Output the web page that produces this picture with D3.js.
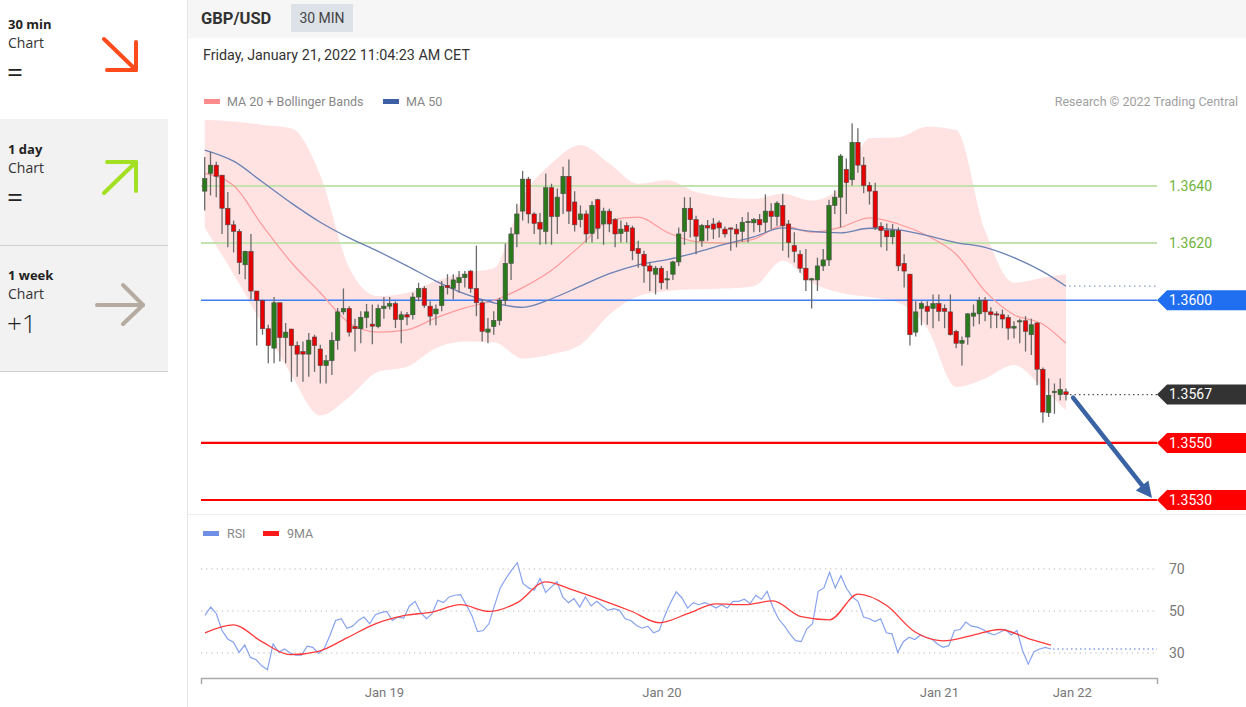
<!DOCTYPE html>
<html><head><meta charset="utf-8">
<script src="https://cdn.jsdelivr.net/npm/d3@7"></script>
<style>body{margin:0;background:#fff;font-family:Roboto,Arial,sans-serif;overflow:hidden}</style>
</head><body><svg id="c" width="1246" height="707"></svg>
<script>
// ---------------- DATA ----------------
const opens=[1.36382,1.36444,1.36473,1.36438,1.36322,1.36264,1.36241,1.36124,1.36171,1.36032,
1.35999,1.35900,1.35832,1.35991,1.35869,1.35899,1.35841,1.35820,1.35811,1.35871,
1.35829,1.35771,1.35788,1.35859,1.35959,1.35971,1.35908,1.35900,1.35940,1.35916,
1.35908,1.35971,1.35979,1.35988,1.35932,1.35949,1.35949,1.36011,1.36041,1.35979,
1.35952,1.35981,1.36052,1.36041,1.36061,1.36079,1.36102,1.36041,1.35991,1.35888,
1.35908,1.35929,1.36000,1.36129,1.36232,1.36312,1.36424,1.36302,1.36273,1.36241,
1.36394,1.36293,1.36373,1.36434,1.36344,1.36282,1.36302,1.36234,1.36352,1.36267,
1.36312,1.36282,1.36234,1.36261,1.36253,1.36181,1.36161,1.36120,1.36091,1.36112,
1.36071,1.36091,1.36134,1.36241,1.36322,1.36282,1.36208,1.36261,1.36267,1.36271,
1.36249,1.36253,1.36249,1.36241,1.36272,1.36271,1.36282,1.36273,1.36312,1.36293,
1.36332,1.36267,1.36191,1.36161,1.36112,1.36071,1.36071,1.36120,1.36141,1.36332,
1.36361,1.36458,1.36422,1.36553,1.36473,1.36402,1.36382,1.36259,1.36244,1.36222,
1.36244,1.36129,1.36091,1.35888,1.35971,1.35979,1.35971,1.35988,1.35971,1.35959,
1.35891,1.35849,1.35871,1.35944,1.35952,1.36000,1.35959,1.35952,1.35949,1.35940,
1.35902,1.35924,1.35928,1.35879,1.35920,1.35758,1.35606,1.35676,1.35669,1.35679];
const highs=[1.36502,1.36520,1.36485,1.36438,1.36379,1.36279,1.36249,1.36173,1.36232,1.36032,
1.36002,1.35914,1.36011,1.35991,1.35920,1.35899,1.35855,1.35855,1.35885,1.35879,
1.35844,1.35808,1.35888,1.35973,1.36041,1.35979,1.35935,1.35961,1.35987,1.35985,
1.35985,1.36011,1.36011,1.35996,1.35961,1.35959,1.36026,1.36061,1.36049,1.35996,
1.35985,1.36067,1.36091,1.36091,1.36102,1.36102,1.36105,1.36191,1.36002,1.35938,
1.35961,1.36008,1.36199,1.36255,1.36338,1.36453,1.36432,1.36308,1.36305,1.36444,
1.36408,1.36391,1.36467,1.36493,1.36382,1.36332,1.36314,1.36347,1.36355,1.36324,
1.36320,1.36288,1.36279,1.36273,1.36261,1.36208,1.36173,1.36132,1.36120,1.36120,
1.36102,1.36138,1.36255,1.36361,1.36361,1.36296,1.36267,1.36281,1.36288,1.36279,
1.36258,1.36255,1.36267,1.36291,1.36308,1.36288,1.36302,1.36371,1.36340,1.36347,
1.36373,1.36281,1.36238,1.36175,1.36179,1.36079,1.36149,1.36179,1.36352,1.36385,
1.36512,1.36496,1.36620,1.36602,1.36502,1.36414,1.36411,1.36273,1.36269,1.36267,
1.36255,1.36161,1.36093,1.35996,1.35996,1.35996,1.36020,1.36020,1.35985,1.36020,
1.35896,1.35873,1.35955,1.35985,1.36011,1.36011,1.35975,1.35961,1.35967,1.35949,
1.35926,1.35935,1.35944,1.35935,1.35924,1.35764,1.35726,1.35708,1.35726,1.35691];
const lows=[1.36314,1.36367,1.36361,1.36232,1.36185,1.36167,1.36091,1.36073,1.36002,1.35841,
1.35879,1.35779,1.35779,1.35785,1.35779,1.35714,1.35732,1.35714,1.35732,1.35749,
1.35708,1.35708,1.35738,1.35826,1.35949,1.35873,1.35820,1.35849,1.35902,1.35846,
1.35902,1.35935,1.35967,1.35902,1.35849,1.35912,1.35932,1.35996,1.35973,1.35912,
1.35912,1.35961,1.36020,1.36002,1.36026,1.36044,1.36026,1.35944,1.35855,1.35849,
1.35879,1.35912,1.35982,1.36071,1.36185,1.36279,1.36269,1.36232,1.36194,1.36196,
1.36194,1.36232,1.36302,1.36267,1.36241,1.36255,1.36202,1.36202,1.36214,1.36194,
1.36238,1.36185,1.36202,1.36202,1.36140,1.36114,1.36061,1.36032,1.36020,1.36038,
1.36038,1.36071,1.36120,1.36194,1.36220,1.36161,1.36187,1.36208,1.36214,1.36220,
1.36220,1.36173,1.36185,1.36205,1.36202,1.36238,1.36238,1.36238,1.36249,1.36261,
1.36173,1.36149,1.36132,1.36096,1.36032,1.35971,1.36032,1.36102,1.36120,1.36302,
1.36255,1.36302,1.36402,1.36446,1.36375,1.36335,1.36246,1.36185,1.36173,1.36196,
1.36102,1.36044,1.35841,1.35873,1.35912,1.35914,1.35902,1.35926,1.35902,1.35876,
1.35832,1.35771,1.35844,1.35908,1.35916,1.35926,1.35902,1.35902,1.35902,1.35861,
1.35867,1.35849,1.35820,1.35808,1.35702,1.35571,1.35591,1.35602,1.35649,1.35649];
const closes=[1.36426,1.36473,1.36434,1.36322,1.36264,1.36241,1.36132,1.36171,1.36032,1.35999,
1.35900,1.35841,1.35991,1.35869,1.35888,1.35841,1.35811,1.35811,1.35860,1.35841,
1.35771,1.35788,1.35859,1.35959,1.35971,1.35888,1.35900,1.35940,1.35959,1.35909,
1.35971,1.35979,1.35988,1.35932,1.35949,1.35941,1.36011,1.36041,1.35982,1.35944,
1.35969,1.36049,1.36044,1.36071,1.36079,1.36091,1.36041,1.35991,1.35891,1.35899,
1.35929,1.36000,1.36129,1.36232,1.36302,1.36424,1.36302,1.36269,1.36249,1.36394,
1.36293,1.36361,1.36434,1.36312,1.36264,1.36302,1.36232,1.36332,1.36252,1.36312,
1.36267,1.36232,1.36249,1.36241,1.36173,1.36164,1.36120,1.36102,1.36112,1.36061,
1.36075,1.36134,1.36232,1.36322,1.36282,1.36224,1.36261,1.36253,1.36249,1.36253,
1.36232,1.36249,1.36232,1.36273,1.36276,1.36282,1.36264,1.36312,1.36293,1.36340,
1.36261,1.36202,1.36171,1.36112,1.36071,1.36075,1.36120,1.36141,1.36332,1.36361,
1.36505,1.36412,1.36553,1.36473,1.36402,1.36382,1.36255,1.36244,1.36222,1.36244,
1.36120,1.36102,1.35879,1.35959,1.35988,1.35961,1.35988,1.35961,1.35961,1.35879,
1.35849,1.35859,1.35952,1.35955,1.35999,1.35959,1.35949,1.35949,1.35934,1.35902,
1.35908,1.35928,1.35891,1.35914,1.35758,1.35608,1.35667,1.35681,1.35687,1.35669];

// indicator samples (candle index -> value)
const indIdx=[0,5,10,15,20,25,30,35,40,45,50,55,60,65,70,75,80,85,90,95,100,105,110,115,120,125,130,135,140,145,149];
const bbUpper=[1.36632,1.36626,1.36614,1.36602,1.36438,1.36114,1.36014,1.36026,1.36067,1.36096,1.36112,1.36361,1.36479,1.36544,1.36479,1.36408,1.36420,1.36379,1.36361,1.36355,1.36373,1.36349,1.36396,1.36567,1.36571,1.36608,1.36596,1.36244,1.36061,1.36079,1.36091];
const bbLower=[1.36255,1.36091,1.35914,1.35738,1.35596,1.35661,1.35749,1.35767,1.35832,1.35855,1.35853,1.35796,1.35811,1.35844,1.35949,1.36014,1.36032,1.36038,1.36041,1.36049,1.36138,1.36061,1.36026,1.36011,1.35991,1.35902,1.35696,1.35726,1.35773,1.35691,1.35614];
const ma20=[1.36444,1.36402,1.36261,1.36132,1.36026,1.35920,1.35888,1.35896,1.35938,1.35973,1.35999,1.36044,1.36105,1.36191,1.36279,1.36291,1.36238,1.36205,1.36200,1.36214,1.36261,1.36238,1.36255,1.36288,1.36267,1.36226,1.36161,1.36032,1.35949,1.35916,1.35849];
const ma50=[1.36526,1.36487,1.36414,1.36340,1.36273,1.36218,1.36171,1.36120,1.36067,1.36022,1.35991,1.35975,1.36005,1.36049,1.36093,1.36124,1.36142,1.36167,1.36196,1.36222,1.36253,1.36241,1.36236,1.36252,1.36246,1.36226,1.36202,1.36185,1.36149,1.36100,1.36049];

const rsi=[47.9,51.9,48.7,40.7,36.7,35.1,30.3,33.8,27.9,26.8,
23.9,22.0,34.3,30.3,31.9,30.0,29.0,29.0,33.2,32.7,
29.8,32.2,38.3,45.5,46.3,41.8,42.8,45.5,47.1,43.9,
48.2,49.2,49.8,45.5,47.1,46.6,52.4,54.6,49.2,46.3,
48.7,55.1,54.0,56.7,57.5,57.8,53.0,47.9,40.2,40.7,
43.9,52.7,61.0,65.5,69.5,73.0,63.1,61.0,59.9,65.5,
58.8,61.5,63.9,56.7,54.0,55.9,51.9,56.7,52.4,54.6,
52.4,50.3,51.1,50.3,46.3,45.5,43.1,41.8,42.8,39.6,
40.7,47.9,54.0,59.1,56.2,51.4,54.0,53.0,54.0,53.0,
51.4,53.0,51.4,54.6,54.6,55.6,53.5,57.5,55.6,59.4,
51.9,46.3,43.1,39.1,35.9,35.4,41.5,43.9,59.4,61.0,
68.4,61.0,66.8,60.7,56.7,54.6,47.1,46.3,45.0,46.3,
39.6,39.1,30.3,35.4,37.5,36.4,38.6,37.5,36.7,34.3,
32.7,33.5,40.7,41.2,44.7,42.8,42.3,41.2,39.6,38.6,
39.9,41.2,38.6,40.7,31.1,24.7,30.6,31.9,32.7,31.9];
const rsiMA=[39.6,43.4,35.4,29.2,30.8,37.2,43.9,47.8,49.5,53.0,49.8,54.0,63.9,59.8,55.1,50.0,44.4,48.7,53.4,53.0,54.8,47.3,45.8,58.0,52.7,40.1,35.8,38.3,41.2,36.9,33.8];

const supportRes=[1.3640,1.3620];
const pivot=[1.3600];
const targets=[1.3550,1.3530];
const rsiLevels=[70,50,30];
const xTickLabels=['Jan 19','Jan 20','Jan 21','Jan 22'];
const xTickIdx=[31,79,127,150];

// ---------------- DRAW ----------------
const svg=d3.select('#c');
const font='Roboto, Arial, sans-serif';
const x=d3.scaleLinear().domain([0,149]).range([204.7,1066]);
const y=d3.scaleLinear().domain([1.3530,1.3640]).range([500,186]);
const xr=d3.scaleLinear().domain([0,149]).range([205,1051]);
const yr=d3.scaleLinear().domain([30,70]).range([653,569]);
const LINE_L=201, LINE_R=1157;

// left panel
const lp=svg.append('g').attr('font-family','"Open Sans", sans-serif');
lp.append('rect').attr('x',0).attr('y',119).attr('width',168).attr('height',253).attr('fill','#f2f2f2');
lp.append('line').attr('x1',0).attr('x2',168).attr('y1',245.5).attr('y2',245.5).attr('stroke','#cfcfcf');
lp.append('line').attr('x1',0).attr('x2',168).attr('y1',371.5).attr('y2',371.5).attr('stroke','#cfcfcf');
const panels=[{t:'30 min',s:'=',y0:0},{t:'1 day',s:'=',y0:125},{t:'1 week',s:'+1',y0:251}];
panels.forEach(p=>{
  lp.append('text').attr('x',8).attr('y',p.y0+29).attr('font-size',13).attr('font-weight',700).attr('fill','#222').text(p.t);
  lp.append('text').attr('x',8).attr('y',p.y0+48).attr('font-size',14).attr('fill','#333').text('Chart');
  lp.append('text').attr('x',7).attr('y',p.y0+(p.s==='='?82:82)).attr('font-size',p.s==='='?28:26).attr('fill','#222').attr('font-weight',p.s==='='?400:300).text(p.s);
});
function arrow(g,pts,col){g.append('path').attr('d',d3.line()(pts)).attr('fill','none').attr('stroke',col).attr('stroke-width',4).attr('stroke-linecap','round').attr('stroke-linejoin','round');}
arrow(lp,[[104,39],[136,70]],'#ff4a1c');arrow(lp,[[107,70],[136,70],[136,42]],'#ff4a1c');
arrow(lp,[[104,193],[136,162]],'#a3e022');arrow(lp,[[107,162],[136,162],[136,191]],'#a3e022');
arrow(lp,[[97,305],[143,305]],'#b5aba0');arrow(lp,[[123,285],[143,305],[123,324]],'#b5aba0');

// frame
svg.append('line').attr('x1',187.5).attr('x2',187.5).attr('y1',0).attr('y2',707).attr('stroke','#e6e6e6');
svg.append('rect').attr('x',188).attr('y',0).attr('width',1058).attr('height',38).attr('fill','#f6f6f6');
svg.append('text').attr('x',201).attr('y',24).attr('font-family',font).attr('font-size',16.5).attr('font-weight',700).attr('fill','#333').text('GBP/USD');
svg.append('rect').attr('x',291).attr('y',4).attr('width',62).attr('height',28).attr('fill','#dde2e8');
svg.append('text').attr('x',322).attr('y',23).attr('text-anchor','middle').attr('font-family',font).attr('font-size',14).attr('fill','#444').text('30 MIN');
svg.append('text').attr('x',203).attr('y',60).attr('font-family',font).attr('font-size',14.3).attr('fill','#333').text('Friday, January 21, 2022 11:04:23 AM CET');
svg.append('line').attr('x1',188).attr('x2',1246).attr('y1',514.5).attr('y2',514.5).attr('stroke','#ececec');

// legends
const lg=svg.append('g').attr('font-family',font).attr('font-size',12.5).attr('fill','#888');
lg.append('rect').attr('x',204).attr('y',99).attr('width',16).attr('height',5).attr('fill','#ff8a8a');
lg.append('text').attr('x',227).attr('y',106).text('MA 20 + Bollinger Bands');
lg.append('rect').attr('x',383).attr('y',99).attr('width',16).attr('height',5).attr('fill','#3d5fa3');
lg.append('text').attr('x',406).attr('y',106).text('MA 50');
lg.append('text').attr('x',1238).attr('y',106).attr('text-anchor','end').attr('fill','#a0a0a0').text('Research © 2022 Trading Central');
lg.append('rect').attr('x',203).attr('y',531).attr('width',16).attr('height',5).attr('fill','#6f8fe6');
lg.append('text').attr('x',227).attr('y',538).text('RSI');
lg.append('rect').attr('x',263).attr('y',531).attr('width',16).attr('height',5).attr('fill','#ff1a1a');
lg.append('text').attr('x',287).attr('y',538).text('9MA');

// bollinger band
const bb=indIdx.map((d,i)=>({i:d,u:bbUpper[i],l:bbLower[i],m20:ma20[i],m50:ma50[i],r:rsiMA[i]}));
svg.append('path').datum(bb).attr('d',d3.area().x(d=>x(d.i)).y0(d=>y(d.l)).y1(d=>y(d.u)).curve(d3.curveMonotoneX)).attr('fill','#ffe2e2');

// level lines
supportRes.forEach(v=>{
  svg.append('line').attr('x1',LINE_L).attr('x2',LINE_R).attr('y1',y(v)).attr('y2',y(v)).attr('stroke','#c4e2ad').attr('stroke-width',2);
  svg.append('text').attr('x',1169).attr('y',y(v)+5).attr('font-family',font).attr('font-size',14).attr('fill','#6fb33a').text(v.toFixed(4));
});
function tag(v,col){
  const yy=y(v);
  svg.append('path').attr('d',`M1157,${yy} L1167,${yy-10} L1246,${yy-10} L1246,${yy+10} L1167,${yy+10} Z`).attr('fill',col);
  svg.append('text').attr('x',1169).attr('y',yy+5).attr('font-family',font).attr('font-size',14).attr('fill','#fff').text(v.toFixed(4));
}
pivot.forEach(v=>{
  svg.append('line').attr('x1',LINE_L).attr('x2',LINE_R).attr('y1',y(v)).attr('y2',y(v)).attr('stroke','#3f7ef5').attr('stroke-width',1.6);
  tag(v,'#1f6ff0');
});
targets.forEach(v=>{
  svg.append('line').attr('x1',LINE_L).attr('x2',LINE_R).attr('y1',y(v)).attr('y2',y(v)).attr('stroke','#ff0000').attr('stroke-width',2.2);
  tag(v,'#ff0000');
});

// MA lines
svg.append('path').datum(bb).attr('d',d3.line().x(d=>x(d.i)).y(d=>y(d.m20)).curve(d3.curveMonotoneX)).attr('fill','none').attr('stroke','#ff9a9a').attr('stroke-width',1.2);
svg.append('path').datum(bb).attr('d',d3.line().x(d=>x(d.i)).y(d=>y(d.m50)).curve(d3.curveMonotoneX)).attr('fill','none').attr('stroke','#6a82b5').attr('stroke-width',1.3);
const lastI=149;
svg.append('line').attr('x1',x(lastI)+3).attr('x2',LINE_R).attr('y1',y(ma50[ma50.length-1])).attr('y2',y(ma50[ma50.length-1])).attr('stroke','#8a9cc4').attr('stroke-dasharray','1.5,3.5').attr('stroke-width',1.2);

// candles
const candles=opens.map((o,i)=>({i,o,h:highs[i],l:lows[i],c:closes[i]}));
const cg=svg.append('g');
cg.selectAll('line').data(candles).join('line').attr('x1',d=>x(d.i)).attr('x2',d=>x(d.i)).attr('y1',d=>y(d.h)).attr('y2',d=>y(d.l)).attr('stroke','#6b6b6b').attr('stroke-width',1.3);
cg.selectAll('rect').data(candles).join('rect').attr('x',d=>x(d.i)-2.2).attr('width',4.4)
  .attr('y',d=>y(Math.max(d.o,d.c))).attr('height',d=>Math.max(1.2,Math.abs(y(d.o)-y(d.c))))
  .attr('fill',d=>d.c>=d.o?'#2a7a1c':'#e80000').attr('stroke','#4a4a4a').attr('stroke-width',0.6);

// current price
const lastC=closes[lastI];
svg.append('line').attr('x1',x(lastI)+4).attr('x2',LINE_R).attr('y1',y(lastC)).attr('y2',y(lastC)).attr('stroke','#555').attr('stroke-dasharray','1.5,3').attr('stroke-width',1.2);
tag(+lastC.toFixed(4),'#333333');

// forecast arrow
const ax0=x(lastI)+7, ay0=y(lastC)+3, ax1=x(lastI)+86, ay1=y(targets[1])-2;
const ang=Math.atan2(ay1-ay0,ax1-ax0);
const hl=16, hw=8;
const bx=ax1-hl*Math.cos(ang), by=ay1-hl*Math.sin(ang);
svg.append('line').attr('x1',ax0).attr('y1',ay0).attr('x2',bx).attr('y2',by).attr('stroke','#3a63a6').attr('stroke-width',4.5).attr('stroke-linecap','round');
svg.append('path').attr('d',`M${ax1},${ay1} L${bx+hw*Math.sin(ang)},${by-hw*Math.cos(ang)} L${bx-hw*Math.sin(ang)},${by+hw*Math.cos(ang)} Z`).attr('fill','#3a63a6');

// RSI panel
rsiLevels.forEach(v=>{
  svg.append('line').attr('x1',LINE_L).attr('x2',LINE_R).attr('y1',yr(v)).attr('y2',yr(v)).attr('stroke','#b5b5b5').attr('stroke-dasharray','1.2,4').attr('stroke-width',1.2);
  svg.append('text').attr('x',1169).attr('y',yr(v)+5).attr('font-family',font).attr('font-size',14).attr('fill','#777').text(v);
});
svg.append('path').datum(rsi).attr('d',d3.line().x((d,i)=>xr(i)).y(d=>yr(d))).attr('fill','none').attr('stroke','#87a2ef').attr('stroke-width',1.2);
svg.append('path').datum(bb).attr('d',d3.line().x(d=>xr(d.i)).y(d=>yr(d.r)).curve(d3.curveMonotoneX)).attr('fill','none').attr('stroke','#ff3a3a').attr('stroke-width',1.3);
svg.append('line').attr('x1',xr(lastI)+2).attr('x2',LINE_R).attr('y1',yr(rsi[lastI])).attr('y2',yr(rsi[lastI])).attr('stroke','#87a2ef').attr('stroke-dasharray','1.5,3').attr('stroke-width',1.3);

// x axis
const axG=svg.append('g').attr('transform','translate(0,678)');
const axScale=d3.scaleLinear().domain([x.invert(LINE_L),x.invert(LINE_R)]).range([LINE_L,LINE_R]);
axG.call(d3.axisBottom(axScale).tickValues(xTickIdx).tickFormat((d,i)=>xTickLabels[i]).tickSizeInner(0).tickSizeOuter(6).tickPadding(10));
axG.select('.domain').attr('stroke','#aaa').attr('stroke-width',1.5);
axG.selectAll('text').attr('font-family',font).attr('font-size',13).attr('fill','#777');
</script></body></html>
